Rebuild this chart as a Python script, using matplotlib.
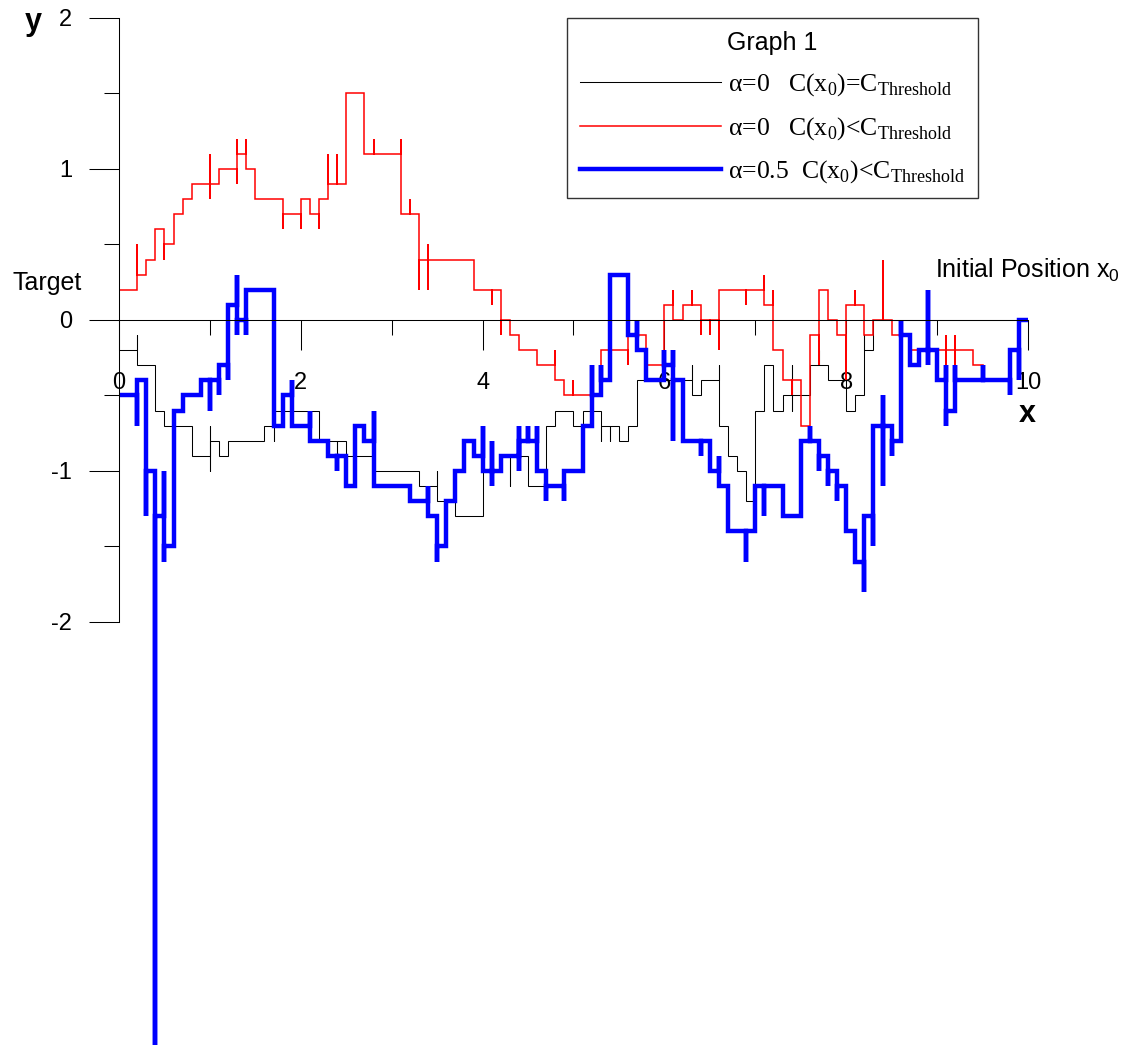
import matplotlib.pyplot as plt
from matplotlib.lines import Line2D
from matplotlib.font_manager import FontProperties

plt.rcParams['font.family'] = 'Liberation Sans'
plt.rcParams['axes.unicode_minus'] = False
plt.rcParams['mathtext.fontset'] = 'custom'
plt.rcParams['mathtext.rm'] = 'Liberation Serif'
plt.rcParams['mathtext.sf'] = 'Liberation Sans'

# Random walk paths: (x, [levels visited at that x])
black_steps = [
    (0.0, [-0.2]), (0.2, [-0.1, -0.3]), (0.4, [-0.6]), (0.5, [-0.7]), (0.8, [-0.9]),
    (1.0, [-0.7, -1.0, -0.8]), (1.1, [-0.9]), (1.2, [-0.8]), (1.6, [-0.7]),
    (1.7, [-0.8, -0.6]), (2.2, [-0.8]), (2.4, [-0.9, -0.8]), (2.5, [-0.9]),
    (2.8, [-1.0]), (3.3, [-1.1]), (3.5, [-1.0, -1.2]), (3.7, [-1.3]), (4.0, [-1.0]),
    (4.2, [-0.9]), (4.3, [-1.1, -0.9]), (4.5, [-1.1]), (4.7, [-0.7]), (4.8, [-0.6]),
    (5.0, [-0.7]), (5.1, [-0.6]), (5.3, [-0.8, -0.7]), (5.4, [-0.8, -0.7]),
    (5.5, [-0.8]), (5.6, [-0.7]), (5.7, [-0.4]), (6.3, [-0.3, -0.5]), (6.4, [-0.4]),
    (6.6, [-0.3, -0.7]), (6.7, [-0.9]), (6.8, [-1.0]), (6.9, [-1.2]), (7.0, [-0.6]),
    (7.1, [-0.3]), (7.2, [-0.4, -0.6]), (7.3, [-0.5]), (7.4, [-0.3, -0.6, -0.5]),
    (7.6, [-0.3]), (7.7, [-0.2, -0.3]), (7.8, [-0.4]), (8.0, [-0.6]), (8.1, [-0.5]),
    (8.2, [-0.1, -0.2]), (8.3, [0.0]),
]
black_end = 10.0

red_steps = [
    (0.0, [0.2]), (0.2, [0.5, 0.3]), (0.3, [0.4]), (0.4, [0.6]), (0.5, [0.4, 0.5]),
    (0.6, [0.7]), (0.7, [0.8]), (0.8, [0.9]), (1.0, [1.1, 0.8, 0.9]), (1.1, [1.0]),
    (1.3, [0.9, 1.2, 1.1]), (1.4, [1.2, 1.0]), (1.5, [0.8]), (1.8, [0.6, 0.7]),
    (2.0, [0.6, 0.8]), (2.1, [0.7]), (2.2, [0.6, 0.8]), (2.3, [1.1, 0.9]),
    (2.4, [1.1, 0.9]), (2.5, [1.5]), (2.7, [1.1]), (2.8, [1.2, 1.1]),
    (3.1, [1.2, 0.7]), (3.2, [0.8, 0.7]), (3.3, [0.2, 0.4]), (3.4, [0.5, 0.2, 0.4]),
    (3.9, [0.2]), (4.1, [0.1, 0.2]), (4.2, [-0.1, 0.0]), (4.3, [-0.1]), (4.4, [-0.2]),
    (4.6, [-0.3]), (4.8, [-0.2, -0.4]), (4.9, [-0.5]), (5.0, [-0.4, -0.5]),
    (5.3, [-0.2]), (5.6, [-0.3, -0.1]), (5.8, [-0.3]), (6.0, [0.1]), (6.1, [0.2, 0.0]),
    (6.2, [0.1]), (6.3, [0.2, 0.1]), (6.4, [-0.1, 0.0]), (6.5, [-0.1, 0.0]),
    (6.6, [-0.2, 0.2]), (6.9, [0.1, 0.2]), (7.1, [0.3, 0.1]), (7.2, [0.2, -0.2]),
    (7.3, [-0.4]), (7.4, [-0.5, -0.4]), (7.5, [-0.7]), (7.6, [-0.1]),
    (7.7, [-0.3, 0.2]), (7.8, [0.0]), (7.9, [-0.1]), (8.0, [-0.4, 0.1]),
    (8.1, [0.2, 0.1]), (8.2, [-0.1]), (8.3, [0.0]), (8.4, [0.4, 0.0]), (8.5, [-0.1]),
    (8.7, [-0.2]), (9.1, [-0.1, -0.3, -0.2]), (9.2, [-0.1, -0.3, -0.2]), (9.4, [-0.3]),
    (9.5, [-0.4]),
]
red_end = 9.8

blue_steps = [
    (0.0, [-0.5]), (0.2, [-0.7, -0.4]), (0.3, [-1.3, -1.0]), (0.4, [-4.8, -1.3]),
    (0.5, [-1.0, -1.6, -1.5]), (0.6, [-0.6]), (0.7, [-0.5]), (0.9, [-0.4]),
    (1.0, [-0.6, -0.4]), (1.1, [-0.5, -0.3]), (1.2, [-0.4, 0.1]), (1.3, [0.3, -0.1, 0.0]),
    (1.4, [-0.1, 0.2]), (1.7, [-0.7]), (1.8, [-0.5]), (1.9, [-0.4, -0.7]),
    (2.1, [-0.6, -0.8]), (2.3, [-0.9]), (2.4, [-1.0, -0.9]), (2.5, [-1.1]),
    (2.6, [-0.7]), (2.7, [-0.8]), (2.8, [-0.6, -1.1]), (3.2, [-1.2]), (3.4, [-1.1, -1.3]),
    (3.5, [-1.6, -1.5]), (3.6, [-1.2]), (3.7, [-1.0]), (3.8, [-0.8]), (3.9, [-0.9]),
    (4.0, [-0.7, -1.0]), (4.1, [-0.8, -1.1, -1.0]), (4.2, [-0.9]),
    (4.4, [-0.7, -1.0, -0.8]), (4.5, [-0.7, -0.8]), (4.6, [-0.7, -1.0]),
    (4.7, [-1.2, -1.1]), (4.9, [-1.2, -1.0]), (5.1, [-0.7]), (5.2, [-0.3, -0.5]),
    (5.3, [-0.3, -0.4]), (5.4, [0.3]), (5.6, [-0.1]), (5.7, [0.0, -0.2]), (5.8, [-0.4]),
    (6.0, [-0.2, -0.3]), (6.1, [-0.2, -0.8, -0.4]), (6.2, [-0.8]), (6.4, [-0.9, -0.8]),
    (6.5, [-1.0]), (6.6, [-0.9, -1.1]), (6.7, [-1.4]), (6.9, [-1.6, -1.4]),
    (7.0, [-1.1]), (7.1, [-1.3, -1.1]), (7.3, [-1.3]), (7.5, [-0.8]), (7.6, [-0.7, -0.8]),
    (7.7, [-1.0, -0.9]), (7.8, [-1.1, -1.0]), (7.9, [-1.2, -1.1]), (8.0, [-1.4]),
    (8.1, [-1.6]), (8.2, [-1.8, -1.3]), (8.3, [-1.5, -0.7]), (8.4, [-0.5, -1.1, -0.7]),
    (8.5, [-0.9, -0.8]), (8.6, [0.0, -0.1]), (8.7, [-0.3]), (8.8, [-0.2]),
    (8.9, [0.2, -0.3, -0.2]), (9.0, [-0.4]), (9.1, [-0.3, -0.7, -0.6]),
    (9.2, [-0.3, -0.4]), (9.5, [-0.3, -0.4]), (9.8, [-0.5, -0.2]), (9.9, [-0.4, 0.0]),
]
blue_end = 10.0

labels = [
    'α=0   C(x$_{\\mathrm{0}}$)=C$_{\\mathrm{Threshold}}$',
    'α=0   C(x$_{\\mathrm{0}}$)<C$_{\\mathrm{Threshold}}$',
    'α=0.5  C(x$_{\\mathrm{0}}$)<C$_{\\mathrm{Threshold}}$',
]
colors = ['black', 'red', 'blue']
widths = [0.75, 1.1, 3.2]


def stair_path(steps, x_end):
    xs, ys = [], []
    for x, stops in steps:
        if ys:
            xs.append(x)
            ys.append(ys[-1])
        for y in stops:
            xs.append(x)
            ys.append(y)
    xs.append(x_end)
    ys.append(ys[-1])
    return xs, ys


fig = plt.figure(figsize=(11.28, 10.47), dpi=100)
ax = fig.add_axes([0, 0, 1, 1])
ax.set_xlim(-1.309, 11.10)
ax.set_ylim(-4.815, 2.119)

handles = []
for steps, end, c, w in zip([black_steps, red_steps, blue_steps],
                            [black_end, red_end, blue_end], colors, widths):
    xs, ys = stair_path(steps, end)
    ax.plot(xs, ys, color=c, lw=w, solid_joinstyle='miter', solid_capstyle='butt')
    handles.append(Line2D([], [], color=c, lw=w))

# Axes crossing at the origin
for side in ['top', 'right']:
    ax.spines[side].set_visible(False)
ax.spines['left'].set_position(('data', 0))
ax.spines['bottom'].set_position(('data', 0))
ax.spines['left'].set_bounds(-2, 2)
ax.spines['bottom'].set_bounds(0, 10)
ax.spines['left'].set_linewidth(0.75)
ax.spines['bottom'].set_linewidth(0.75)

ax.set_xticks([0, 2, 4, 6, 8, 10])
ax.set_xticks([1, 3, 5, 7, 9], minor=True)
ax.set_yticks([-2, -1, 0, 1, 2])
ax.set_yticks([-1.5, -0.5, 0.5, 1.5], minor=True)
ax.tick_params(axis='both', which='major', direction='out', length=21.6, width=0.75,
               labelsize=17)
ax.tick_params(axis='both', which='minor', direction='out', length=10.8, width=0.75)
ax.tick_params(axis='x', which='major', pad=16)
ax.tick_params(axis='y', which='major', pad=12)

ax.text(-0.946, 1.97, 'y', fontsize=22, fontweight='bold', ha='center', va='center')
ax.text(9.989, -0.62, 'x', fontsize=22, fontweight='bold', ha='center', va='center')
ax.text(-0.792, 0.245, 'Target', fontsize=18, ha='center', va='center')
ax.text(8.977, 0.33, 'Initial Position x$_{\\mathsf{0}}$', fontsize=18, ha='left', va='center')

leg = ax.legend(handles, labels, title='Graph 1', loc='upper left',
                bbox_to_anchor=(567 / 1128, 1 - 18 / 1047), bbox_transform=fig.transFigure,
                prop=FontProperties(family='Liberation Serif', size=18.5),
                title_fontproperties=FontProperties(family='Liberation Sans', size=18),
                fancybox=False, edgecolor='#333333', framealpha=1,
                borderaxespad=0, borderpad=0.5, handlelength=5.5, handletextpad=0.25,
                labelspacing=0.65)
leg.get_frame().set_linewidth(1.0)

fig.savefig('out.png', dpi=100)
